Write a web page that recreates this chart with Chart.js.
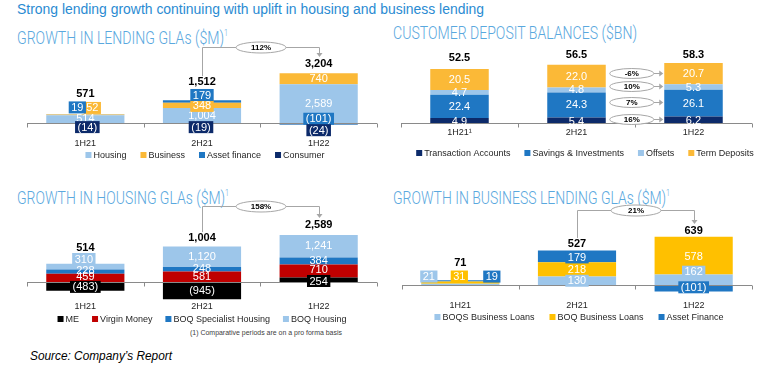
<!DOCTYPE html>
<html>
<head>
<meta charset="utf-8">
<script src="https://cdn.jsdelivr.net/npm/chart.js@4.4.1/dist/chart.umd.min.js"></script>
<style>
  body { margin: 0; width: 768px; height: 368px; position: relative; overflow: hidden; background: #fff;
         font-family: "Liberation Sans", Arial, sans-serif; }
  .abs { position: absolute; white-space: nowrap; transform-origin: left top; }
  .head { font-size: 14px; line-height: 14px; color: #2a8bd2; }
  .title { font-family: Roboto, "Liberation Sans", sans-serif; font-weight: 300; font-size: 18px; line-height: 18px; color: #5aa8de; }
  .title span { font-size: 9px; vertical-align: 8px; }
  .note { font-size: 6.5px; line-height: 8px; color: #404040; }
  .source { font-size: 12px; line-height: 12px; font-style: italic; color: #000; }
  canvas { position: absolute; }
</style>
</head>
<body>
<div class="abs head fit" data-w="467" style="left:17px;top:2px">Strong lending growth continuing with uplift in housing and business lending</div>
<div class="abs title fit" data-w="211" style="left:17px;top:24px">GROWTH IN LENDING GLAs ($M)<span>1</span></div>
<div class="abs title fit" data-w="244" style="left:393px;top:24px">CUSTOMER DEPOSIT BALANCES ($BN)</div>
<div class="abs title fit" data-w="212" style="left:17px;top:184px">GROWTH IN HOUSING GLAs ($M)<span>1</span></div>
<div class="abs title fit" data-w="277" style="left:393px;top:184px">GROWTH IN BUSINESS LENDING GLAs ($M)<span>1</span></div>
<div class="abs note fit" data-w="152" style="left:190px;top:329px">(1) Comparative periods are on a pro forma basis</div>
<div class="abs source fit" data-w="142" style="left:30px;top:350px">Source: Company’s Report</div>

<canvas id="lending" width="384" height="134" style="left:0;top:36px"></canvas>
<canvas id="deposits" width="384" height="134" style="left:384px;top:36px"></canvas>
<canvas id="housing" width="384" height="132" style="left:0;top:196px"></canvas>
<canvas id="business" width="384" height="132" style="left:384px;top:196px"></canvas>

<script>
const periods = ["1H21", "2H21", "1H22"];
const depositPeriods = ["1H21¹", "2H21", "1H22"];

// Growth in lending GLAs ($M)
const lendingHousing = [514, 1004, 2589];
const lendingBusiness = [52, 348, 740];
const lendingAssetFinance = [19, 179, -101];
const lendingConsumer = [-14, -19, -24];
const lendingTotals = [571, 1512, 3204];
const lendingGrowth = "112%";

// Customer deposit balances ($BN)
const depTransaction = [4.9, 5.4, 6.2];
const depSavings = [22.4, 24.3, 26.1];
const depOffsets = [4.7, 4.8, 5.3];
const depTerm = [20.5, 22.0, 20.7];
const depTotals = [52.5, 56.5, 58.3];
const depGrowth = ["16%", "7%", "10%", "-6%"];

// Growth in housing GLAs ($M)
const housingME = [-483, -945, 254];
const housingVirgin = [459, 581, 710];
const housingSpecialist = [228, 248, 384];
const housingBOQ = [310, 1120, 1241];
const housingTotals = [514, 1004, 2589];
const housingGrowth = "158%";

// Growth in business lending GLAs ($M)
const bizBOQS = [21, 130, 162];
const bizBOQ = [31, 218, 578];
const bizAssetFinance = [19, 179, -101];
const bizTotals = [71, 527, 639];
const bizGrowth = "21%";

const LIGHT = "#9dc6ea";
const YELLOW = "#fbb937";
const GOLD = "#ffc000";
const BLUE = "#1f77c3";
const NAVY = "#0c2a6a";
const RED = "#c00000";
const BLACK = "#000000";
const FONT = '"Liberation Sans", Arial, sans-serif';

// stretch text blocks to the widths measured on the reference
document.querySelectorAll(".fit").forEach((el) => {
  const w = el.getBoundingClientRect().width;
  el.style.transform = `scaleX(${el.dataset.w / w})`;
});

function fmt(v, dec) {
  const s = Math.abs(v).toLocaleString("en-US", { minimumFractionDigits: dec, maximumFractionDigits: dec });
  return v < 0 ? "(" + s + ")" : s;
}

function ellipse(ctx, cx, cy, rx, ry, text) {
  ctx.beginPath();
  ctx.ellipse(cx, cy, rx, ry, 0, 0, Math.PI * 2);
  ctx.fillStyle = "#fff";
  ctx.fill();
  ctx.strokeStyle = "#a6a6a6";
  ctx.stroke();
  ctx.fillStyle = "#000";
  ctx.font = "bold 8px " + FONT;
  ctx.textAlign = "center";
  ctx.fillText(text, cx, cy + 0.5);
}

// axis line, segment labels, totals, growth call-outs and legend
const dashPlugin = {
  id: "dash",
  afterDatasetsDraw(chart, args, o) {
    const ctx = chart.ctx;
    const area = chart.chartArea;
    const zy = Math.round(chart.scales.y.getPixelForValue(0)) + 0.5;
    const n = chart.data.labels.length;
    ctx.save();
    ctx.strokeStyle = "#8a8a8a";
    ctx.lineWidth = 1;
    ctx.beginPath();
    ctx.moveTo(area.left, zy);
    ctx.lineTo(area.right, zy);
    for (let i = 0; i <= n; i++) {
      const tx = Math.round(area.left + (area.right - area.left) * i / n) + 0.5;
      ctx.moveTo(tx, zy);
      ctx.lineTo(tx, zy + 4);
    }
    ctx.stroke();

    ctx.textAlign = "center";
    ctx.textBaseline = "middle";
    ctx.font = "11px " + FONT;
    chart.data.datasets.forEach((ds, di) => {
      chart.getDatasetMeta(di).data.forEach((el, i) => {
        const [dx, dy, box] = o.labelStyle[di][i];
        const t = fmt(ds.data[i], o.decimals);
        const cx = el.x + dx;
        const cy = (el.y + el.base) / 2 + dy;
        if (box) {
          const w = ctx.measureText(t).width + 5;
          ctx.fillStyle = ds.backgroundColor;
          ctx.fillRect(cx - w / 2, cy - 6, w, 12);
        }
        ctx.fillStyle = "#fff";
        ctx.fillText(t, cx, cy + 0.5);
      });
    });

    const cxs = chart.getDatasetMeta(0).data.map((el) => el.x);
    const tops = cxs.map((_, i) =>
      Math.min(...chart.data.datasets.map((ds, di) => {
        const el = chart.getDatasetMeta(di).data[i];
        return Math.min(el.y, el.base);
      }))
    );
    const totalY = tops.map((t, i) => t - o.totalGap[i]);
    ctx.font = "bold 11px " + FONT;
    ctx.fillStyle = "#000";
    o.totals.forEach((v, i) => ctx.fillText(fmt(v, o.decimals), cxs[i], totalY[i]));

    if (o.bracket) {
      const { text, from, to, lift } = o.bracket;
      const x0 = Math.round(cxs[from]) + 0.5;
      const x2 = Math.round(cxs[to]) + 0.5;
      const y0 = totalY[from] - 6;
      const tip = totalY[to] - 7;
      const by = Math.round(tip - lift) + 0.5;
      ctx.strokeStyle = "#a6a6a6";
      ctx.beginPath();
      ctx.moveTo(x0, y0);
      ctx.lineTo(x0, by);
      ctx.lineTo(x2, by);
      ctx.lineTo(x2, tip - 3);
      ctx.stroke();
      ctx.fillStyle = "#a6a6a6";
      ctx.beginPath();
      ctx.moveTo(x2 - 3, tip - 4);
      ctx.lineTo(x2 + 3, tip - 4);
      ctx.lineTo(x2, tip);
      ctx.fill();
      ellipse(ctx, (x0 + x2) / 2, by, 25, 5.5, text);
    }

    if (o.pairs) {
      o.pairs.forEach((t, di) => {
        const m = chart.getDatasetMeta(di);
        const a = m.data[1], b = m.data[2];
        const cy = Math.round((b.y + b.base) / 2 - 1) + 0.5;
        const x1 = a.x + a.width / 2 + 4;
        const x2 = b.x - b.width / 2 - 1;
        ctx.strokeStyle = "#a6a6a6";
        ctx.beginPath();
        ctx.moveTo(x1 + 44, cy);
        ctx.lineTo(x2 - 3, cy);
        ctx.stroke();
        ctx.fillStyle = "#a6a6a6";
        ctx.beginPath();
        ctx.moveTo(x2 - 4, cy - 3);
        ctx.lineTo(x2 - 4, cy + 3);
        ctx.lineTo(x2, cy);
        ctx.fill();
        ellipse(ctx, x1 + 22, cy, 22, 5, t);
      });
    }

    const lg = o.legend;
    ctx.font = "9px " + FONT;
    ctx.textAlign = "left";
    const items = chart.data.datasets.map((ds) => ({
      t: ds.label, c: ds.backgroundColor, w: 8 + ctx.measureText(ds.label).width,
    }));
    const total = items.reduce((s, it) => s + it.w, 0) + lg.gap * (items.length - 1);
    let lx = lg.cx - total / 2;
    items.forEach((it) => {
      ctx.fillStyle = it.c;
      ctx.fillRect(lx, lg.y - 3, 6, 6);
      ctx.fillStyle = "#262626";
      ctx.fillText(it.t, lx + 8, lg.y + 0.5);
      lx += it.w + lg.gap;
    });
    ctx.restore();
  },
};

function makeChart(id, labels, datasets, barPct, pad, dash) {
  const chart = new Chart(document.getElementById(id), {
    type: "bar",
    data: {
      labels,
      datasets: datasets.map((d) => ({ ...d, borderWidth: 0, barPercentage: barPct, categoryPercentage: 1 })),
    },
    options: {
      responsive: false,
      animation: false,
      layout: { padding: pad },
      plugins: { legend: { display: false }, tooltip: { enabled: false }, dash },
      scales: {
        x: {
          stacked: true,
          grid: { display: false, drawTicks: false },
          border: { display: false },
          ticks: { padding: 0, color: "#262626", font: { family: FONT, size: 9 } },
        },
        y: { stacked: true, display: false },
      },
    },
    plugins: [dashPlugin],
  });
  // put the zero line where it sits on the reference, with its units per pixel
  const ca = chart.chartArea;
  chart.options.scales.y.min = -(ca.bottom - dash.zeroY) * dash.upp;
  chart.options.scales.y.max = (dash.zeroY - ca.top) * dash.upp;
  chart.update();
  return chart;
}

const plain = [0, 0, 0];

makeChart("lending", periods, [
  { label: "Housing", data: lendingHousing, backgroundColor: LIGHT },
  { label: "Business", data: lendingBusiness, backgroundColor: YELLOW },
  { label: "Asset finance", data: lendingAssetFinance, backgroundColor: BLUE },
  { label: "Consumer", data: lendingConsumer, backgroundColor: NAVY },
], 0.67, { left: 27, right: 7, top: 2, bottom: 20.6 }, {
  zeroY: 87, upp: 67, decimals: 0,
  labelStyle: [
    [[0, -1, 0], plain, plain],
    [[7, -7, 1], [0, 0.5, 1], plain],
    [[-8, -7, 1], [0, -6.5, 1], [0, -5, 1]],
    [[2, 4, 1], [-1, 4, 1], [0, 5.5, 1]],
  ],
  totals: lendingTotals, totalGap: [20, 18, 9.3],
  bracket: { text: lendingGrowth, from: 1, to: 2, lift: 10 },
  legend: { y: 119, cx: 205, gap: 14 },
});

makeChart("deposits", depositPeriods, [
  { label: "Transaction Accounts", data: depTransaction, backgroundColor: NAVY },
  { label: "Savings & Investments", data: depSavings, backgroundColor: BLUE },
  { label: "Offsets", data: depOffsets, backgroundColor: LIGHT },
  { label: "Term Deposits", data: depTerm, backgroundColor: YELLOW },
], 0.5, { left: 17, right: 16, top: 2, bottom: 31.6 }, {
  zeroY: 87, upp: 0.97, decimals: 1,
  labelStyle: [
    [[0, 1, 0], [0, 1, 0], [0, 1, 0]],
    [plain, plain, plain],
    [plain, plain, plain],
    [plain, plain, plain],
  ],
  totals: depTotals, totalGap: [11, 10, 8],
  pairs: depGrowth,
  legend: { y: 117, cx: 201, gap: 14 },
});

makeChart("housing", periods, [
  { label: "ME", data: housingME, backgroundColor: BLACK },
  { label: "Virgin Money", data: housingVirgin, backgroundColor: RED },
  { label: "BOQ Specialist Housing", data: housingSpecialist, backgroundColor: BLUE },
  { label: "BOQ Housing", data: housingBOQ, backgroundColor: LIGHT },
], 0.67, { left: 27, right: 7, top: 2, bottom: 15.6 }, {
  zeroY: 86, upp: 55, decimals: 0,
  labelStyle: [
    [[0, 0.5, 1], plain, [0, 1.3, 1]],
    [[0, -1, 0], plain, [0, -1, 0]],
    [[0, -1.5, 0], [0, -1, 0], [0, -1, 0]],
    [[-1.5, -7.7, 1], [0, -0.7, 0], [0, -1, 0]],
  ],
  totals: housingTotals, totalGap: [16, 8.5, 10],
  bracket: { text: housingGrowth, from: 1, to: 2, lift: 12 },
  legend: { y: 123, cx: 202, gap: 13 },
});

makeChart("business", periods, [
  { label: "BOQS Business Loans", data: bizBOQS, backgroundColor: LIGHT },
  { label: "BOQ Business Loans", data: bizBOQ, backgroundColor: GOLD },
  { label: "Asset Finance", data: bizAssetFinance, backgroundColor: BLUE },
], 0.67, { left: 18, right: 16, top: 2, bottom: 16.6 }, {
  zeroY: 89, upp: 15.3, decimals: 0,
  labelStyle: [
    [[-31.5, -7.8, 1], [0, 0, 1], [0, -8, 1]],
    [[-1, -6.1, 1], plain, [0, 1, 0]],
    [[31.5, -4.4, 1], [0, 1, 1], [0, -1, 1]],
  ],
  totals: bizTotals, totalGap: [17.6, 6.6, 5.6],
  bracket: { text: bizGrowth, from: 1, to: 2, lift: 14 },
  legend: { y: 121, cx: 195, gap: 15 },
});
</script>
</body>
</html>
